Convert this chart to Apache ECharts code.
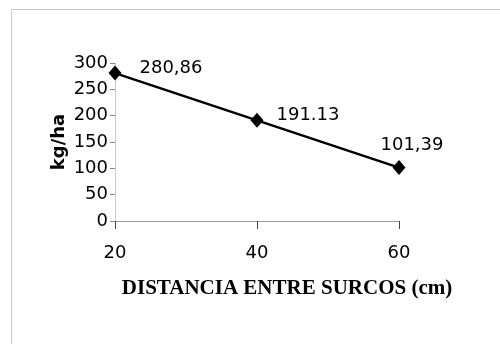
<!DOCTYPE html>
<html>
<head>
<meta charset="utf-8">
<script src="https://cdn.jsdelivr.net/npm/echarts@6/dist/echarts.min.js"></script>
<style>html,body{margin:0;padding:0;background:#fff;}#c{width:500px;height:344px;}</style>
</head>
<body>
<div id="c"></div>
<script>
const distances = [20, 40, 60];
const yields = [280.86, 191.13, 101.39];
const pointLabels = ['280,86', '191.13', '101,39'];
const yTicks = [0, 50, 100, 150, 200, 250, 300];
const xTitle = 'DISTANCIA ENTRE SURCOS (cm)';
const yTitle = 'kg/ha';

const labelPlacement = [
  {position: 'right', distance: 18, offset: [0, -5]},
  {position: 'right', distance: 13, offset: [0, -5]},
  {position: 'top', distance: 6, offset: [13, 0]}
];

const chart = echarts.init(document.getElementById('c'), null, {renderer: 'canvas'});
chart.setOption({
  animation: false,
  backgroundColor: '#fff',
  graphic: [{
    type: 'rect', left: 9, top: 7,
    shape: {width: 500, height: 344},
    style: {fill: 'none', stroke: '#c8c8c8', lineWidth: 1}
  }],
  grid: {left: 115, right: 101, top: 63, bottom: 123},
  xAxis: {
    type: 'value', min: 20, max: 60, interval: 20,
    name: xTitle, nameLocation: 'middle', nameGap: 57,
    nameTextStyle: {fontFamily: 'Liberation Serif', fontWeight: 'bold', fontSize: 21, color: '#000', padding: [0, 0, 0, 60]},
    axisLine: {show: true, lineStyle: {color: '#999', width: 1}},
    axisTick: {show: true, length: 8, lineStyle: {color: '#444'}},
    axisLabel: {margin: 23, fontFamily: 'DejaVu Sans', fontSize: 18, color: '#000'},
    splitLine: {show: false}
  },
  yAxis: {
    type: 'value', min: yTicks[0], max: yTicks[yTicks.length - 1], interval: 50,
    name: yTitle, nameLocation: 'middle', nameGap: 47, nameRotate: 90,
    nameMoveOverlap: false,
    nameTextStyle: {fontFamily: 'DejaVu Sans', fontWeight: 'bold', fontSize: 18, color: '#000'},
    axisLine: {show: true, lineStyle: {color: '#ccc', width: 1}},
    axisTick: {show: true, length: 5, lineStyle: {color: '#888'}},
    axisLabel: {margin: 7, fontFamily: 'DejaVu Sans', fontSize: 18, color: '#000'},
    splitLine: {show: false}
  },
  series: [{
    type: 'line',
    data: distances.map((d, i) => ({
      value: [d, yields[i]],
      label: Object.assign({show: true, formatter: pointLabels[i]}, labelPlacement[i])
    })),
    lineStyle: {color: '#000', width: 2.5},
    itemStyle: {color: '#000'},
    symbol: 'diamond', symbolSize: [13, 15],
    label: {fontFamily: 'DejaVu Sans', fontSize: 18, color: '#000'}
  }]
});
</script>
</body>
</html>
